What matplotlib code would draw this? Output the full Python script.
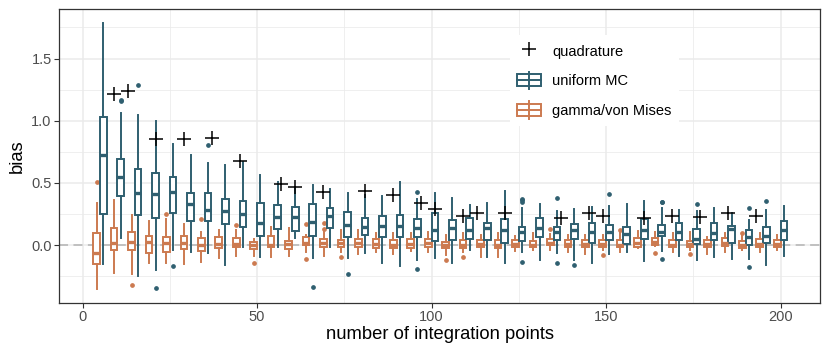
import matplotlib
matplotlib.use("Agg")
import matplotlib.pyplot as plt
from matplotlib.legend_handler import HandlerBase
from matplotlib.patches import Rectangle
from matplotlib.lines import Line2D
from matplotlib.ticker import MultipleLocator

plt.rcParams['font.family'] = ['Liberation Sans', 'DejaVu Sans']

# ---------------- data ----------------
n_points = [5, 10, 15, 20, 25, 30, 35, 40, 45, 50, 55, 60, 65, 70, 75, 80, 85, 90, 95, 100,
            105, 110, 115, 120, 125, 130, 135, 140, 145, 150, 155, 160, 165, 170, 175, 180,
            185, 190, 195, 200]

# uniform MC: whisker low, q1, median, q3, whisker high
mc_lo  = [-0.155, 0.054, -0.249, -0.201, -0.040, -0.054, -0.067, -0.161, -0.013, -0.099,
          -0.013, 0.054, -0.107, -0.013, -0.107, -0.067, -0.142, -0.169, -0.121, -0.107,
          -0.147, -0.040, -0.099, -0.147, -0.054, -0.120, -0.065, -0.120, -0.147, -0.070,
          -0.054, -0.127, -0.050, -0.087, -0.120, -0.100, -0.115, -0.115, -0.160, -0.087]
mc_q1  = [0.249, 0.394, 0.241, 0.214, 0.260, 0.196, 0.196, 0.169, 0.142, 0.072,
          0.126, 0.115, 0.072, 0.134, 0.062, 0.080, 0.067, 0.062, 0.062, 0.035,
          0.040, 0.046, 0.040, 0.019, 0.035, 0.062, 0.040, 0.046, 0.020, 0.040,
          0.010, 0.046, 0.070, 0.040, 0.005, 0.040, 0.020, 0.000, 0.020, 0.040]
mc_med = [0.721, 0.550, 0.416, 0.408, 0.424, 0.330, 0.282, 0.276, 0.249, 0.180,
          0.223, 0.223, 0.187, 0.233, 0.161, 0.142, 0.153, 0.153, 0.134, 0.121,
          0.134, 0.121, 0.140, 0.121, 0.107, 0.134, 0.107, 0.121, 0.107, 0.107,
          0.090, 0.121, 0.107, 0.107, 0.050, 0.094, 0.126, 0.062, 0.070, 0.120]
mc_q3  = [1.027, 0.689, 0.611, 0.577, 0.545, 0.421, 0.421, 0.370, 0.356, 0.340,
          0.322, 0.303, 0.330, 0.300, 0.268, 0.215, 0.233, 0.241, 0.207, 0.260,
          0.200, 0.215, 0.181, 0.210, 0.147, 0.215, 0.147, 0.170, 0.175, 0.160,
          0.147, 0.207, 0.160, 0.180, 0.125, 0.175, 0.150, 0.121, 0.147, 0.190]
mc_hi  = [1.789, 1.059, 1.046, 1.000, 0.810, 0.724, 0.662, 0.644, 0.670, 0.563,
          0.509, 0.469, 0.483, 0.448, 0.421, 0.400, 0.394, 0.509, 0.370, 0.420,
          0.376, 0.322, 0.334, 0.437, 0.295, 0.330, 0.275, 0.287, 0.309, 0.310,
          0.330, 0.357, 0.295, 0.280, 0.270, 0.295, 0.255, 0.200, 0.280, 0.313]
mc_out_n = [10, 10, 15, 20, 25, 35, 65, 75, 95, 95, 125, 125, 125, 125, 135, 135, 140,
            150, 165, 165, 165, 175, 190, 190, 195]
mc_out_v = [1.158, 1.170, 1.287, -0.349, -0.169, 0.805, -0.341, -0.236, 0.424, -0.190,
            0.370, 0.360, 0.350, -0.140, 0.376, -0.147, -0.160, 0.408, 0.350, 0.345,
            -0.115, 0.330, 0.295, -0.180, 0.357]

# gamma/von Mises
gv_lo  = [-0.357, -0.223, -0.233, -0.142, -0.142, -0.150, -0.134, -0.107, -0.088, -0.090,
          -0.094, -0.088, -0.054, -0.088, -0.054, -0.070, -0.054, -0.070, -0.050, -0.054,
          -0.080, -0.054, -0.099, -0.100, -0.050, -0.040, -0.040, -0.054, -0.070, -0.040,
          -0.054, -0.027, -0.010, -0.054, -0.040, -0.070, -0.054, -0.040, -0.054, -0.040]
gv_q1  = [-0.153, -0.040, -0.040, -0.067, -0.054, -0.035, -0.046, -0.027, -0.019, -0.035,
          -0.019, -0.030, 0.000, -0.013, -0.019, -0.013, -0.027, -0.027, -0.020, -0.013,
          -0.027, -0.020, -0.019, -0.027, -0.015, -0.019, 0.000, -0.013, -0.019, -0.013,
          -0.013, -0.013, 0.000, -0.019, -0.013, -0.019, -0.010, -0.027, -0.019, -0.019]
gv_med = [-0.067, 0.013, 0.027, 0.027, 0.013, 0.013, 0.000, 0.008, 0.008, -0.003,
          0.000, 0.008, 0.020, 0.013, 0.013, 0.020, 0.008, 0.000, 0.010, 0.013,
          0.000, 0.000, 0.008, 0.000, 0.010, 0.000, 0.013, 0.008, 0.008, 0.008,
          0.000, 0.013, 0.021, 0.000, 0.008, 0.008, 0.013, 0.000, 0.008, 0.008]
gv_q3  = [0.099, 0.134, 0.105, 0.072, 0.062, 0.072, 0.054, 0.062, 0.054, 0.027,
          0.072, 0.030, 0.062, 0.046, 0.040, 0.050, 0.046, 0.040, 0.045, 0.046,
          0.027, 0.040, 0.040, 0.040, 0.040, 0.035, 0.046, 0.040, 0.040, 0.040,
          0.040, 0.054, 0.054, 0.040, 0.035, 0.040, 0.054, 0.035, 0.046, 0.040]
gv_hi  = [0.335, 0.362, 0.241, 0.196, 0.207, 0.169, 0.107, 0.121, 0.121, 0.050,
          0.142, 0.134, 0.080, 0.121, 0.120, 0.120, 0.100, 0.100, 0.100, 0.107,
          0.080, 0.094, 0.080, 0.094, 0.070, 0.094, 0.090, 0.080, 0.080, 0.080,
          0.094, 0.115, 0.107, 0.094, 0.107, 0.067, 0.094, 0.070, 0.094, 0.080]
gv_out_n = [5, 15, 25, 35, 45, 50, 65, 65, 70, 70, 75, 105, 110, 135, 150, 155, 165, 175, 190]
gv_out_v = [0.509, -0.322, 0.249, 0.209, 0.158, -0.147, 0.169, -0.115, 0.180, 0.126,
            -0.099, -0.121, -0.099, 0.126, -0.080, 0.120, -0.068, -0.070, 0.097]

# quadrature
quad_n = [9, 13, 21, 29, 37, 45, 57, 61, 69, 81, 89, 97, 101, 109, 113, 121, 137, 145,
          149, 161, 169, 177, 185, 193]
quad_v = [1.212, 1.241, 0.850, 0.850, 0.858, 0.676, 0.488, 0.464, 0.429, 0.437, 0.402,
          0.335, 0.287, 0.235, 0.260, 0.255, 0.215, 0.261, 0.236, 0.215, 0.233, 0.228,
          0.260, 0.233]

# ---------------- style ----------------
BLUE = '#2F5F70'
ORANGE = '#CC7A50'
DODGE = 0.95
BOXW = 1.9

fig = plt.figure(figsize=(8.3, 3.56), dpi=100)
ax = fig.add_axes([59.3 / 830, 1 - 302.7 / 356, 760.7 / 830, 293.4 / 356])

ax.axhline(0, color='#BDBDBD', lw=1.3, ls=(0, (5, 3)), zorder=1)


def make_stats(lo, q1, med, q3, hi, out_n, out_v):
    stats = []
    for i, n in enumerate(n_points):
        fl = [v for nn, v in zip(out_n, out_v) if nn == n]
        stats.append(dict(whislo=lo[i], q1=q1[i], med=med[i], q3=q3[i], whishi=hi[i], fliers=fl))
    return stats


def draw(stats, offset, color):
    pos = [n + offset for n in n_points]
    ax.bxp(stats, positions=pos, widths=BOXW, patch_artist=True, showcaps=False, manage_ticks=False,
           boxprops=dict(facecolor='white', edgecolor=color, linewidth=1.4),
           medianprops=dict(color=color, linewidth=2.4, solid_capstyle='butt'),
           whiskerprops=dict(color=color, linewidth=1.4),
           flierprops=dict(marker='o', markersize=2.4, markerfacecolor=color, markeredgecolor=color),
           zorder=3)


draw(make_stats(gv_lo, gv_q1, gv_med, gv_q3, gv_hi, gv_out_n, gv_out_v), -DODGE, ORANGE)
draw(make_stats(mc_lo, mc_q1, mc_med, mc_q3, mc_hi, mc_out_n, mc_out_v), DODGE, BLUE)

ax.plot(quad_n, quad_v, ls='none', marker='+', markersize=9.5, markeredgewidth=1.1, color='black', zorder=5)

ax.set_xlim(-6.65, 211.3)
ax.set_ylim(-0.464, 1.896)
ax.xaxis.set_major_locator(MultipleLocator(50))
ax.xaxis.set_minor_locator(MultipleLocator(25))
ax.yaxis.set_minor_locator(MultipleLocator(0.25))
ax.set_yticks([0, 0.5, 1.0, 1.5])
ax.set_yticklabels(['0.0', '0.5', '1.0', '1.5'])
ax.grid(which='major', color='#EBEBEB', lw=1.1, zorder=0)
ax.grid(which='minor', color='#EBEBEB', lw=0.55, zorder=0)
ax.set_axisbelow(True)
ax.tick_params(which='major', length=3.5, width=0.8, color='#333333', labelcolor='#4D4D4D', labelsize=10.5, pad=2)
ax.tick_params(which='minor', length=0)
for s in ax.spines.values():
    s.set_color('#333333')
    s.set_linewidth(0.9)
ax.set_xlabel('number of integration points', fontsize=13.2, labelpad=1)
ax.set_ylabel('bias', fontsize=13.2, labelpad=4)


class BoxHandler(HandlerBase):
    def __init__(self, color):
        super().__init__()
        self.color = color

    def create_artists(self, legend, orig_handle, xdescent, ydescent, width, height, fontsize, trans):
        x0, y0 = -xdescent, -ydescent
        bx0, bx1 = x0, x0 + width
        by0, by1 = y0 + 0.16 * height, y0 + 0.84 * height
        ym = y0 + 0.5 * height
        xm = x0 + 0.5 * width
        rect = Rectangle((bx0, by0), bx1 - bx0, by1 - by0, facecolor='white', edgecolor=self.color,
                         lw=1.4, transform=trans)
        med = Line2D([bx0, bx1], [ym, ym], color=self.color, lw=1.4, transform=trans)
        w1 = Line2D([xm, xm], [y0, by0], color=self.color, lw=1.4, transform=trans)
        w2 = Line2D([xm, xm], [by1, y0 + height], color=self.color, lw=1.4, transform=trans)
        mv = Line2D([xm, xm], [by0, by1], color=self.color, lw=1.4, transform=trans)
        return [w1, w2, rect, med, mv]


h_quad = Line2D([], [], ls='none', marker='+', markersize=9.5, markeredgewidth=1.1, color='black')
h_mc = Rectangle((0, 0), 1, 1)
h_gv = Rectangle((0, 0), 1, 1)
leg = ax.legend([h_quad, h_mc, h_gv], ['quadrature', 'uniform MC', 'gamma/von Mises'],
                handler_map={h_mc: BoxHandler(BLUE), h_gv: BoxHandler(ORANGE)},
                loc='upper left', bbox_to_anchor=(0.583, 0.938), frameon=True, fancybox=False,
                facecolor='white', edgecolor='none', framealpha=1, fontsize=10.5,
                handlelength=1.6, handleheight=1.5, labelspacing=0.8, handletextpad=0.8,
                borderpad=0.5)
leg.set_zorder(10)

fig.savefig('out.png', dpi=100)
